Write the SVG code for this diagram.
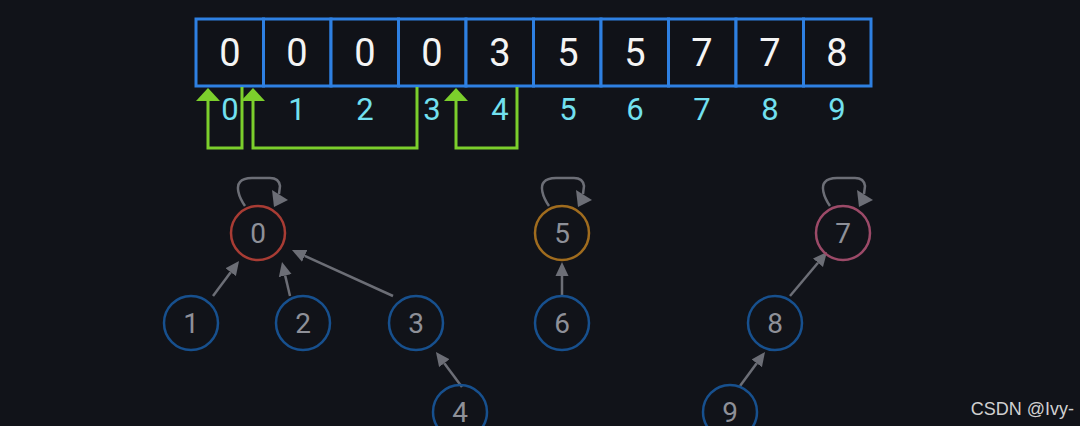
<svg xmlns="http://www.w3.org/2000/svg" width="1080" height="426" viewBox="0 0 1080 426">
<defs>
<style>
.cell{fill:#101218;stroke:#2e80e2;stroke-width:3}
.val{font-family:Roboto,"Liberation Sans",sans-serif;font-size:38px;fill:#f4f4f4;text-anchor:middle}
.idx{font-family:Roboto,"Liberation Sans",sans-serif;font-size:31px;fill:#72e0ef;text-anchor:middle}
.br{fill:none;stroke:#7ccf2c;stroke-width:3}
.brh{fill:#7ccf2c}
.node{fill:none;stroke-width:2.5}
.blue{stroke:#17508e}
.lbl{font-family:Roboto,"Liberation Sans",sans-serif;font-size:28px;fill:#8e9098;text-anchor:middle}
.edge{fill:none;stroke:#6c6e76;stroke-width:2.5}
.head{fill:#6c6e76}
</style>
<marker id="ah" markerUnits="userSpaceOnUse" markerWidth="15" markerHeight="14" refX="0" refY="7" orient="auto">
<path d="M0,0.5 L14,7 L0,13.5 z" class="head"/>
</marker>
<g id="loop">
<path class="edge" d="M245,206 C238,196 236,186 240,182 Q243,178 252,178 L270,178 Q279,178 280,186 L279,194"/>
<path class="head" d="M272,190 L288,200 L274,207 z"/>
</g>
</defs>
<rect width="1080" height="426" fill="#111319"/>

<g id="array">
<rect class="cell" x="196" y="19" width="67.5" height="67"/>
<rect class="cell" x="263.5" y="19" width="67.5" height="67"/>
<rect class="cell" x="331" y="19" width="67.5" height="67"/>
<rect class="cell" x="398.5" y="19" width="67.5" height="67"/>
<rect class="cell" x="466" y="19" width="67.5" height="67"/>
<rect class="cell" x="533.5" y="19" width="67.5" height="67"/>
<rect class="cell" x="601" y="19" width="67.5" height="67"/>
<rect class="cell" x="668.5" y="19" width="67.5" height="67"/>
<rect class="cell" x="736" y="19" width="67.5" height="67"/>
<rect class="cell" x="803.5" y="19" width="67.5" height="67"/>
<text class="val" x="230" y="66">0</text>
<text class="val" x="297" y="66">0</text>
<text class="val" x="365" y="66">0</text>
<text class="val" x="432" y="66">0</text>
<text class="val" x="500" y="66">3</text>
<text class="val" x="568" y="66">5</text>
<text class="val" x="635" y="66">5</text>
<text class="val" x="702" y="66">7</text>
<text class="val" x="770" y="66">7</text>
<text class="val" x="837" y="66">8</text>
<text class="idx" x="230" y="120">0</text>
<text class="idx" x="297" y="120">1</text>
<text class="idx" x="365" y="120">2</text>
<text class="idx" x="432" y="120">3</text>
<text class="idx" x="500" y="120">4</text>
<text class="idx" x="568" y="120">5</text>
<text class="idx" x="635" y="120">6</text>
<text class="idx" x="702" y="120">7</text>
<text class="idx" x="770" y="120">8</text>
<text class="idx" x="837" y="120">9</text>
</g>

<g id="brackets">
<path class="br" d="M208,99 L208,148 L242,148 L242,87"/>
<path class="brh" d="M196,101 L208,88 L220,101 z"/>
<path class="br" d="M253,99 L253,148 L417,148 L417,87"/>
<path class="brh" d="M241,101 L253,88 L265,101 z"/>
<path class="br" d="M456,99 L456,148 L517,148 L517,87"/>
<path class="brh" d="M444,101 L456,88 L468,101 z"/>
</g>

<g id="connectors">
<line class="edge" x1="213" y1="296" x2="230.7" y2="272.2" marker-end="url(#ah)"/>
<line class="edge" x1="290" y1="296" x2="285.2" y2="275.6" marker-end="url(#ah)"/>
<line class="edge" x1="393" y1="296" x2="304.7" y2="255.8" marker-end="url(#ah)"/>
<line class="edge" x1="462" y1="387" x2="444.3" y2="363.2" marker-end="url(#ah)"/>
<line class="edge" x1="562" y1="296" x2="562" y2="276" marker-end="url(#ah)"/>
<line class="edge" x1="790" y1="296" x2="818" y2="262.7" marker-end="url(#ah)"/>
<line class="edge" x1="740" y1="386" x2="756.7" y2="363.3" marker-end="url(#ah)"/>
<use href="#loop"/>
<use href="#loop" transform="translate(304,0)"/>
<use href="#loop" transform="translate(585,0)"/>
</g>

<g id="n0"><circle class="node" cx="258" cy="233" r="27" stroke="#a83c34"/><text class="lbl" x="258" y="243">0</text></g>
<g id="n1"><circle class="node blue" cx="191" cy="323" r="27"/><text class="lbl" x="191" y="333">1</text></g>
<g id="n2"><circle class="node blue" cx="303" cy="323" r="27"/><text class="lbl" x="303" y="333">2</text></g>
<g id="n3"><circle class="node blue" cx="416" cy="323" r="27"/><text class="lbl" x="416" y="333">3</text></g>
<g id="n4"><circle class="node blue" cx="460" cy="412" r="27"/><text class="lbl" x="460" y="422">4</text></g>
<g id="n5"><circle class="node" cx="562" cy="233" r="27" stroke="#a06c1e"/><text class="lbl" x="562" y="243">5</text></g>
<g id="n6"><circle class="node blue" cx="562" cy="323" r="27"/><text class="lbl" x="562" y="333">6</text></g>
<g id="n7"><circle class="node" cx="843" cy="233" r="27" stroke="#9c4a68"/><text class="lbl" x="843" y="243">7</text></g>
<g id="n8"><circle class="node blue" cx="775" cy="323" r="27"/><text class="lbl" x="775" y="333">8</text></g>
<g id="n9"><circle class="node blue" cx="730" cy="412" r="27"/><text class="lbl" x="730" y="422">9</text></g>

<text x="1074" y="415" font-family="'Liberation Sans',Arial,sans-serif" font-size="18" fill="#d0d0d0" text-anchor="end">CSDN @Ivy-</text>
</svg>
